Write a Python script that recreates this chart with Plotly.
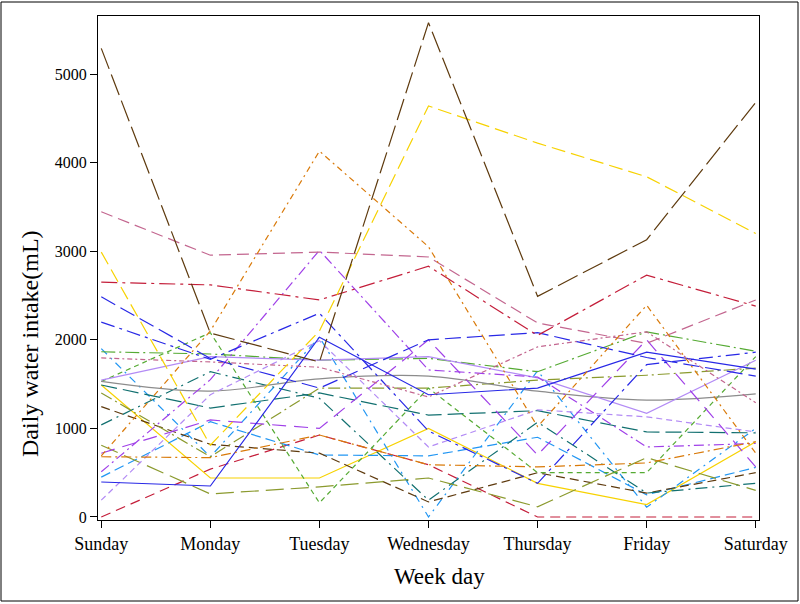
import plotly.graph_objects as go

days = ["Sunday", "Monday", "Tuesday", "Wednesday", "Thursday", "Friday", "Saturday"]
y_ticks = [0, 1000, 2000, 3000, 4000, 5000]

# one list per subject (mL per weekday, Sunday..Saturday)
s_brown_ld = [5290, 2075, 1750, 5580, 2490, 3130, 4680]
s_gold_ld = [2990, 810, 2100, 4640, 4220, 3840, 3200]
s_orange_dd = [690, 2100, 4130, 3050, 1020, 2390, 720]
s_orange_ldd = [680, 670, 925, 590, 565, 610, 850]
s_mauve_d = [3445, 2955, 2990, 2935, 2190, 1960, 2450]
s_rose_dd = [1795, 1750, 1690, 1355, 1920, 2090, 1290]
s_red_ldd = [2650, 2620, 2450, 2830, 2050, 2730, 2380]
s_red_ld = [0, 540, 925, 590, 0, 0, 0]
s_blue_ld = [2485, 1790, 1455, 2000, 2080, 1800, 1590]
s_blue_dd = [2200, 1780, 2300, 970, 380, 1720, 1860]
s_blue_solid = [395, 350, 2030, 1380, 1455, 1860, 1670]
s_purple_dd = [510, 1550, 3010, 1660, 1580, 790, 830]
s_purple_ld = [720, 1095, 1000, 2000, 700, 2000, 565]
s_lav_solid = [1545, 1810, 1770, 1810, 1570, 1170, 1770]
s_lav_d = [190, 1380, 1990, 790, 1210, 1130, 960]
s_gray = [1530, 1420, 1560, 1590, 1420, 1320, 1390]
s_green_dd = [1865, 1840, 1770, 1790, 1640, 2090, 1870]
s_green_d = [1530, 2080, 160, 1455, 500, 500, 1810]
s_olive_dd = [1400, 680, 1455, 1455, 1545, 1600, 1680]
s_olive_ld = [810, 260, 340, 440, 115, 670, 300]
s_teal_ld = [1490, 1230, 1400, 1150, 1200, 960, 950]
s_teal_dd = [1040, 1640, 1340, 190, 1070, 270, 380]
s_brown_d = [1245, 820, 720, 170, 500, 270, 500]
s_lblue_dd = [1900, 680, 2030, 0, 1650, 110, 1000]
s_lblue_ld = [450, 1075, 700, 690, 900, 250, 560]
s_gold_solid = [1490, 440, 440, 1000, 380, 140, 850]

x_title = "Week day"
y_title = "Daily water intake(mL)"

BROWN = "#5E3A0E"
GOLD = "#F7D200"
ORANGE = "#D97A0A"
MAUVE = "#C3668F"
RED = "#C41E3A"
BLUE = "#2828E6"
PURPLE = "#A040E8"
LAV = "#B38BF5"
GRAY = "#8C8C8C"
GREEN = "#55AA33"
OLIVE = "#8B9A2E"
TEAL = "#127070"
LBLUE = "#2196F3"

series = [
    (s_red_ld, RED, "10px,6px", "linear"),
    (s_gold_solid, GOLD, "solid", "linear"),
    (s_lblue_ld, LBLUE, "10px,5px", "linear"),
    (s_lblue_dd, LBLUE, "8px,5px,2px,5px", "linear"),
    (s_brown_d, BROWN, "9px,5px", "linear"),
    (s_teal_dd, TEAL, "12px,5px,2px,5px", "linear"),
    (s_teal_ld, TEAL, "16px,6px", "linear"),
    (s_olive_ld, OLIVE, "18px,7px", "linear"),
    (s_olive_dd, OLIVE, "12px,4px,2px,4px", "linear"),
    (s_green_d, GREEN, "5px,4px", "linear"),
    (s_green_dd, GREEN, "14px,4px,2px,4px", "linear"),
    (s_gray, GRAY, "solid", "spline"),
    (s_lav_d, LAV, "6px,4px", "linear"),
    (s_lav_solid, LAV, "solid", "linear"),
    (s_purple_ld, PURPLE, "14px,8px", "linear"),
    (s_purple_dd, PURPLE, "10px,4px,2px,4px", "linear"),
    (s_blue_solid, BLUE, "solid", "linear"),
    (s_blue_dd, BLUE, "14px,5px,3px,5px", "linear"),
    (s_blue_ld, BLUE, "16px,6px", "linear"),
    (s_red_ldd, RED, "16px,5px,3px,5px", "linear"),
    (s_rose_dd, MAUVE, "5px,3px,2px,3px", "linear"),
    (s_mauve_d, MAUVE, "12px,6px", "linear"),
    (s_orange_ldd, ORANGE, "10px,4px,2px,4px", "linear"),
    (s_orange_dd, ORANGE, "6px,4px,2px,4px", "linear"),
    (s_gold_ld, GOLD, "14px,6px", "linear"),
    (s_brown_ld, BROWN, "22px,6px", "linear"),
]

fig = go.Figure()
for vals, color, dash, shape in series:
    fig.add_trace(go.Scatter(
        x=days, y=vals, mode="lines",
        line=dict(color=color, width=1.2, dash=dash, shape=shape, smoothing=1.0),
        showlegend=False, hoverinfo="skip",
    ))

font_family = "Liberation Serif, Times New Roman, serif"

# plot area in pixels: x 98..759, y 16..520
PW, PH = 661, 504

fig.update_layout(
    width=800, height=604,
    margin=dict(l=98, r=41, t=16, b=84),
    paper_bgcolor="white", plot_bgcolor="white",
    font=dict(family=font_family, color="black", size=17),
    xaxis=dict(
        type="category", categoryorder="array", categoryarray=days,
        range=[-0.03, 6.03],
        showgrid=False, zeroline=False,
        showline=True, linecolor="black", linewidth=1, mirror=True,
        ticks="outside", ticklen=7, tickcolor="black", tickwidth=1,
        tickfont=dict(family=font_family, size=18),
    ),
    yaxis=dict(
        range=[-34, 5655],
        tickvals=y_ticks, ticktext=[str(v) for v in y_ticks],
        showgrid=False, zeroline=False,
        showline=True, linecolor="black", linewidth=1, mirror=True,
        ticks="outside", ticklen=7, tickcolor="black", tickwidth=1,
        tickfont=dict(family=font_family, size=16),
    ),
    annotations=[
        dict(text=x_title, xref="paper", yref="paper",
             x=(440 - 98) / PW, y=(520 - 576) / PH,
             xanchor="center", yanchor="middle", showarrow=False,
             font=dict(family=font_family, size=23, color="black")),
        dict(text=y_title, xref="paper", yref="paper",
             x=(30 - 98) / PW, y=(520 - 344) / PH, textangle=-90,
             xanchor="center", yanchor="middle", showarrow=False,
             font=dict(family=font_family, size=24, color="black")),
    ],
    shapes=[dict(
        type="rect", xref="paper", yref="paper",
        x0=(1 - 98) / PW, x1=(798 - 98) / PW,
        y0=(520 - 601) / PH, y1=(520 - 2) / PH,
        line=dict(color="black", width=1), fillcolor="rgba(0,0,0,0)", layer="below",
    )],
)

fig.write_html(
    "out.html",
    config={"displayModeBar": False},
    post_script="document.body.style.margin='0';document.body.style.overflow='hidden';",
)
